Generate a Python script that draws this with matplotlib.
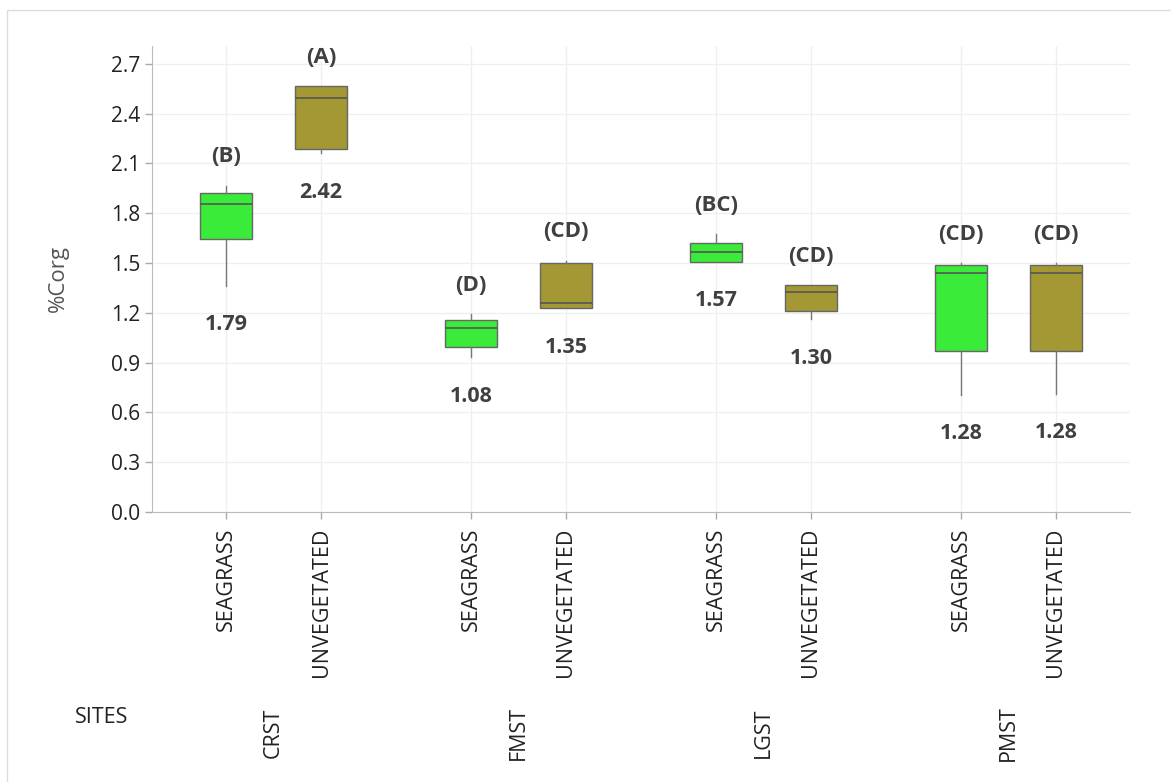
import matplotlib
matplotlib.use("Agg")
import matplotlib.pyplot as plt
import matplotlib.transforms as mtransforms
from matplotlib.patches import Rectangle

plt.rcParams['font.family'] = ['Open Sans', 'DejaVu Sans']

# data
sites = ["CRST", "FMST", "LGST", "PMST"]
habitats = ["SEAGRASS", "UNVEGETATED"]
whislo = [1.364, 2.162, 0.932, 1.228, 1.507, 1.162, 0.705, 0.711]
q1 = [1.647, 2.186, 0.993, 1.228, 1.507, 1.212, 0.973, 0.973]
med = [1.855, 2.497, 1.107, 1.262, 1.565, 1.328, 1.443, 1.443]
q3 = [1.925, 2.564, 1.157, 1.503, 1.623, 1.366, 1.489, 1.489]
whishi = [1.967, 2.564, 1.192, 1.515, 1.674, 1.366, 1.499, 1.499]
means = ["1.79", "2.42", "1.08", "1.35", "1.57", "1.30", "1.28", "1.28"]
letters = ["(B)", "(A)", "(D)", "(CD)", "(BC)", "(CD)", "(CD)", "(CD)"]

green = "#3AEB3A"
olive = "#A39833"
text_col = "#404040"

group_gap = 2.58
positions = [g * group_gap + k for g in range(len(sites)) for k in range(len(habitats))]
tick_names = [h for _ in sites for h in habitats]

stats = []
for i in range(len(positions)):
    stats.append(dict(whislo=whislo[i], q1=q1[i], med=med[i], q3=q3[i], whishi=whishi[i], fliers=[]))

fig = plt.figure(figsize=(11.71, 7.82), dpi=100)
# light panel border
fig.patches.append(Rectangle((7 / 1171, -0.1), 1.1, 1.1 - 10 / 782, transform=fig.transFigure,
                             fill=False, edgecolor="#dddddd", linewidth=1.0))
ax = fig.add_axes([152 / 1171, 1 - 512 / 782, 978 / 1171, 466 / 782])

bp = ax.bxp(stats, positions=positions, widths=0.54, patch_artist=True, showcaps=False,
            showfliers=False,
            boxprops=dict(edgecolor="#666666", linewidth=1.0),
            medianprops=dict(color="#555555", linewidth=1.2),
            whiskerprops=dict(color="#777777", linewidth=1.0))
for i, box in enumerate(bp['boxes']):
    box.set_facecolor(green if i % 2 == 0 else olive)
    box.set_zorder(3)
for ln in bp['medians'] + bp['whiskers']:
    ln.set_zorder(4)

ax.set_ylim(0, 2.808)
ax.set_xlim(-0.78, 9.52)
yt = [0.0, 0.3, 0.6, 0.9, 1.2, 1.5, 1.8, 2.1, 2.4, 2.7]
ax.set_yticks(yt)
ax.set_yticklabels([f"{v:.1f}" for v in yt], fontsize=15, color="#222222")
ax.set_xticks(positions)
ax.set_xticklabels(tick_names, rotation=90, fontsize=15.5, color="#222222")
ax.tick_params(axis='both', colors="#aaaaaa", labelcolor="#222222", length=5, width=1)
ax.tick_params(axis='x', pad=6)

ax.grid(True, color="#efefef", linewidth=0.9, zorder=0)
ax.set_axisbelow(True)
for s in ["top", "right"]:
    ax.spines[s].set_visible(False)
for s in ["left", "bottom"]:
    ax.spines[s].set_color("#bbbbbb")

ax.set_ylabel("%Corg", fontsize=16, color="#555555", labelpad=30)

# annotations above/below each box
for i, x in enumerate(positions):
    ax.annotate(letters[i], (x, whishi[i]), xytext=(0, 21), textcoords="offset points",
                ha="center", va="center", fontsize=16, fontweight="bold", color=text_col)
    ax.annotate(means[i], (x, whislo[i]), xytext=(0, -28), textcoords="offset points",
                ha="center", va="center", fontsize=15.5, fontweight="bold", color=text_col)

# site labels under the habitat labels
trans = mtransforms.blended_transform_factory(ax.transData, ax.transAxes)
for g, site in enumerate(sites):
    cx = g * group_gap + 0.5
    ax.text(cx, -0.474, site, transform=trans, rotation=90, ha="center", va="center",
            fontsize=15.5, color="#222222")
ax.text(-0.051, -0.442, "SITES", transform=ax.transAxes, ha="center", va="center",
        fontsize=15.5, color="#222222")

fig.savefig("out.png", dpi=100)
